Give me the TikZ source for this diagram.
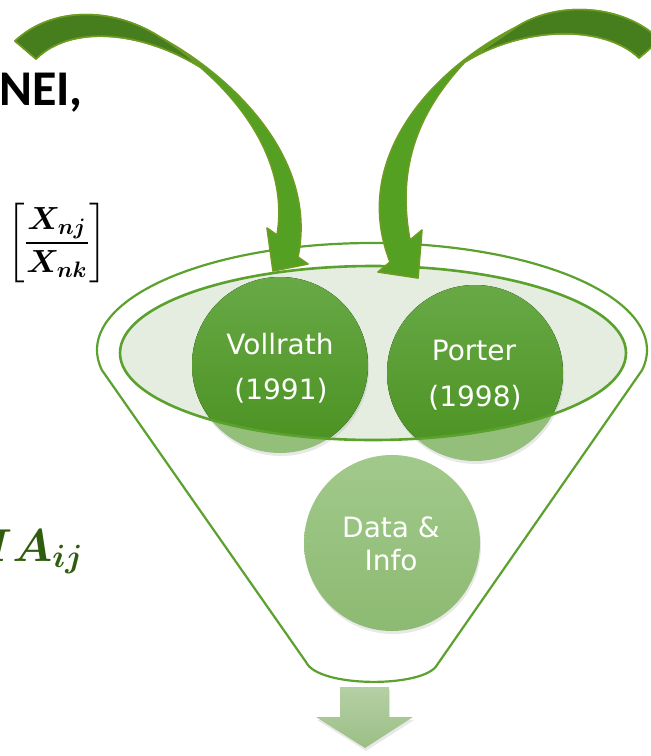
\RequirePackage{fix-cm}
\documentclass[tikz,border=0pt]{standalone}
\usepackage{fontspec}
\usepackage{graphicx}
\usepackage{amsmath,bm}
\newfontfamily\circfont{DejaVu Sans}
\newfontfamily\calfont{Carlito}
\usetikzlibrary{shadows}
\definecolor{funnelline}{HTML}{5BA12D}
\definecolor{ellfill}{HTML}{E4EDE0}
\definecolor{circtop}{HTML}{68A946}
\definecolor{circbot}{HTML}{4A9120}
\definecolor{circlight}{HTML}{93BF7A}
\definecolor{datatop}{HTML}{A1C98B}
\definecolor{databot}{HTML}{8DBA72}
\definecolor{arrdark}{HTML}{467E1E}
\definecolor{arrlight}{HTML}{53A022}
\definecolor{arredge}{HTML}{6E9B22}
\definecolor{downtop}{HTML}{B5D0A5}
\definecolor{downbot}{HTML}{9BBE85}
\definecolor{matext}{HTML}{2F5C0E}
\tikzset{
  funnelstyle/.style={draw=funnelline, line width=2.2pt, line join=round},
  ctext/.style={text=white, font=\circfont\fontsize{28}{34}\selectfont, anchor=base, inner sep=0pt},
  circlenode/.style={circle, minimum size=176pt, inner sep=0pt},
  softshadow/.style={drop shadow={opacity=0.18, shadow xshift=1pt, shadow yshift=-3pt}},
  arrowlight/.style={fill=arrlight, draw=arredge, line width=1.6pt, line join=round},
  arrowdark/.style={fill=arrdark, draw=arredge, line width=1.6pt, line join=round},
}
\begin{document}
\begin{tikzpicture}[x=1pt, y=-1pt]
\useasboundingbox (0,0) rectangle (651,756);

% funnel outline
\draw[funnelstyle] (372,350) ++(169.2:275 and 107)
  arc[start angle=169.2, end angle=370.8, x radius=275, y radius=107]
  -- (437,665) .. controls (424,688) and (318,688) .. (306,662) -- cycle;

% inner ellipse fill
\fill[ellfill] (373,353) ellipse [x radius=253, y radius=87];

% data circle
\node[circlenode, top color=datatop, bottom color=databot, softshadow] (data) at (392,543) {};

% upper circles, lighter outside the ellipse
\node[circlenode, fill=circlight, softshadow] (vol) at (280,365) {};
\node[circlenode, fill=circlight, softshadow] (por) at (475,373) {};
\begin{scope}
  \clip (373,353) ellipse [x radius=253, y radius=87];
  \fill[top color=circtop, bottom color=circbot] (vol.center) circle (88);
  \fill[top color=circtop, bottom color=circbot] (por.center) circle (88);
\end{scope}

% inner ellipse outline
\draw[draw=funnelline, line width=2.6pt] (373,353) ellipse [x radius=253, y radius=87];

% circle texts
\node[ctext] (vol1) at (280,354) {Vollrath};
\node[ctext] (vol2) at (281,399) {(1991)};
\node[ctext] (por1) at (474,360) {Porter};
\node[ctext] (por2) at (475,406) {(1998)};
\node[ctext] (dat1) at (391,537) {Data \&};
\node[ctext] (dat2) at (391,570) {Info};

% left curved arrow
\filldraw[arrowlight] (15,41) .. controls (50,8) and (110,5) .. (160,37)
  .. controls (235,78) and (318,160) .. (298,257) -- (308,264) -- (273,271)
  -- (267,228) -- (277,235) .. controls (288,170) and (250,110) .. (200,67)
  .. controls (140,30) and (70,25) .. (36,59) -- cycle;
\filldraw[arrowdark] (15,41) .. controls (50,8) and (110,5) .. (160,37)
  .. controls (175,46) and (190,57) .. (200,67)
  .. controls (140,30) and (70,25) .. (36,59) -- cycle;

% right curved arrow
\filldraw[arrowlight] (660,40) .. controls (625,5) and (560,0) .. (518,26)
  .. controls (430,70) and (350,160) .. (390,262) -- (378,272) -- (418,278)
  -- (422,230) -- (410,240) .. controls (396,165) and (420,110) .. (465,62)
  .. controls (525,25) and (605,25) .. (639,58) -- cycle;
\filldraw[arrowdark] (660,40) .. controls (625,5) and (560,0) .. (518,26)
  .. controls (500,38) and (480,52) .. (465,62)
  .. controls (525,25) and (605,25) .. (639,58) -- cycle;

% down arrow
\path[top color=downtop, bottom color=downbot, softshadow]
  (340,687) -- (389,687) -- (389,717) -- (413,717) -- (365,748)
  -- (316,717) -- (340,717) -- cycle;

% left texts
\node[anchor=base east, inner sep=0pt, font=\calfont\bfseries\fontsize{50}{60}\selectfont] (nei) at (83,105) {NEI,};
\node[inner sep=0pt, font=\fontsize{20}{24}\selectfont] (frac) at (57,243)
  {\scalebox{1.6}{$\displaystyle\left[\frac{\bm{X_{nj}}}{\bm{X_{nk}}}\right]$}};
\node[anchor=base east, inner sep=0pt, text=matext, font=\fontsize{20}{24}\selectfont] (ma) at (84,561)
  {\scalebox{2.3}{$\bm{MA_{ij}}$}};
\end{tikzpicture}
\end{document}
